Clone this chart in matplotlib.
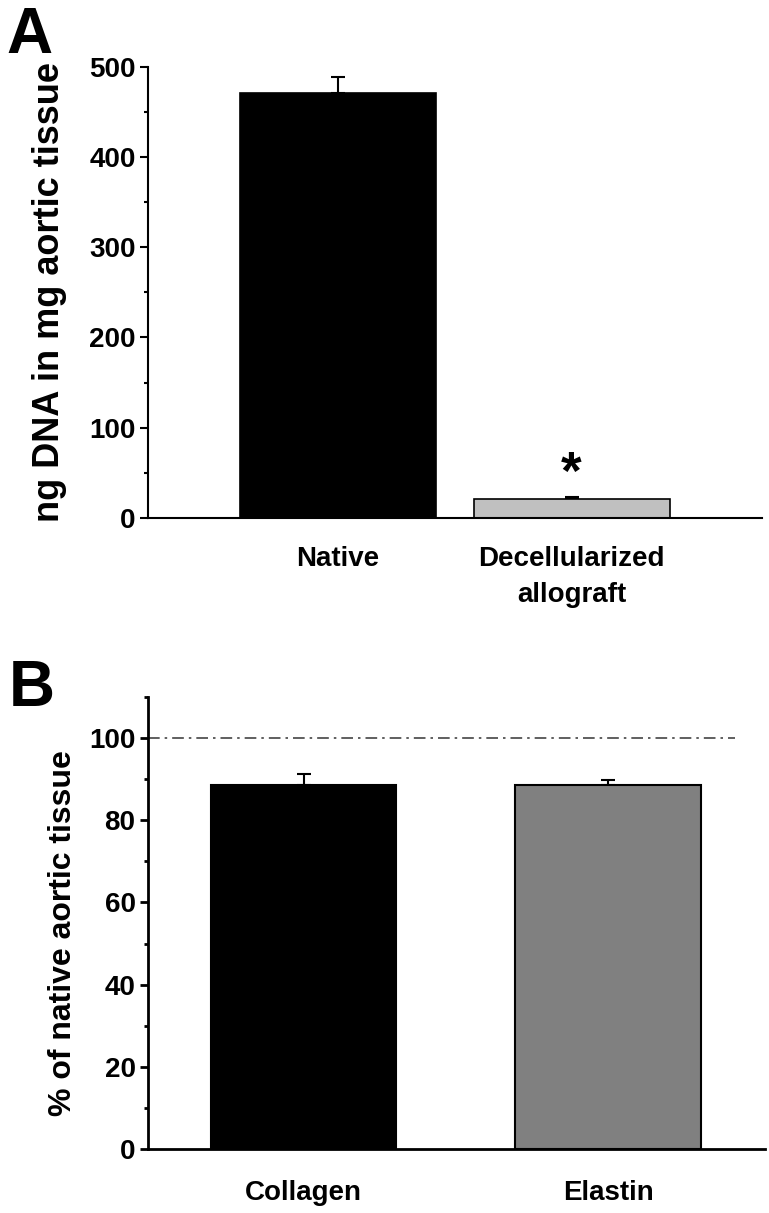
#!/usr/bin/env python3

# Two stacked bar panels: DNA content and ECM content after decellularization
import matplotlib.pyplot as plt
from matplotlib.ticker import MultipleLocator


##########################################################################
# DATA
##########################################################################

dna_groups = ["Native", "Decellularized\nallograft"]
dna_values = [471, 21]
dna_errors = [18, 2]
dna_colors = ["#000000", "#c0c0c0"]

ecm_groups = ["Collagen", "Elastin"]
ecm_values = [88.6, 88.5]
ecm_errors = [2.6, 1.3]
ecm_colors = ["#000000", "#808080"]

reference_level = 100


##########################################################################
# STYLE
##########################################################################

plt.rcParams["font.family"] = ["Liberation Sans", "DejaVu Sans"]
plt.rcParams["font.weight"] = "bold"


def style_axis(ax, lw, xpad):
    for side in ("top", "right"):
        ax.spines[side].set_visible(False)
    for side in ("left", "bottom"):
        ax.spines[side].set_linewidth(lw)
    ax.tick_params(axis="y", which="major", direction="out", length=6,
                   width=lw, labelsize=20, pad=3)
    ax.tick_params(axis="y", which="minor", direction="out", length=3,
                   width=lw)
    ax.tick_params(axis="x", length=0, labelsize=20, pad=xpad)
    for lab in ax.get_yticklabels() + ax.get_xticklabels():
        lab.set_fontweight("bold")


fig = plt.figure(figsize=(7.69, 12.13), dpi=100)

# Panel A
axA = fig.add_axes([0.1925, 0.573, 0.7985, 0.372])
xA = range(len(dna_groups))
axA.bar(xA, dna_values, width=0.84, color=dna_colors, edgecolor="black",
        linewidth=1.2, zorder=2)
axA.errorbar(xA, dna_values, yerr=[[0] * len(dna_values), dna_errors],
             fmt="none", ecolor="black", elinewidth=1.5, capsize=5,
             capthick=1.5, zorder=1)
axA.text(1, 48, "*", ha="center", va="center", fontsize=38,
         fontweight="bold")
axA.set_xlim(-0.814, 1.816)
axA.set_ylim(0, 500)
axA.yaxis.set_major_locator(MultipleLocator(100))
axA.yaxis.set_minor_locator(MultipleLocator(50))
axA.set_xticks(list(xA))
axA.set_xticklabels(dna_groups, linespacing=1.5)
axA.set_ylabel("ng DNA in mg aortic tissue", fontsize=26, fontweight="bold",
               labelpad=16)
style_axis(axA, 1.5, 20)
fig.text(0.008, 0.995, "A", fontsize=46, fontweight="heavy", va="top")

# Panel B
axB = fig.add_axes([0.1925, 0.0528, 0.8025, 0.3726])
xB = range(len(ecm_groups))
axB.bar(xB, ecm_values, width=0.61, color=ecm_colors, edgecolor="black",
        linewidth=1.5, zorder=2)
axB.errorbar(xB, ecm_values, yerr=[[0] * len(ecm_values), ecm_errors],
             fmt="none", ecolor="black", elinewidth=1.5, capsize=5,
             capthick=1.5, zorder=1)
axB.plot([-0.511, 1.417], [reference_level, reference_level],
         linestyle=(0, (7, 3, 1.5, 3)), color="#444444", linewidth=1.2,
         zorder=1)
axB.set_xlim(-0.511, 1.516)
axB.set_ylim(0, 110)
axB.yaxis.set_major_locator(MultipleLocator(20))
axB.yaxis.set_minor_locator(MultipleLocator(10))
axB.set_xticks(list(xB))
axB.set_xticklabels(ecm_groups)
axB.set_ylabel("% of native aortic tissue", fontsize=23, fontweight="bold")
axB.yaxis.set_label_coords(-0.113, 0.478)
style_axis(axB, 2.0, 22)
fig.text(0.012, 0.457, "B", fontsize=46, fontweight="heavy", va="top")

fig.savefig("out.png", dpi=100)
